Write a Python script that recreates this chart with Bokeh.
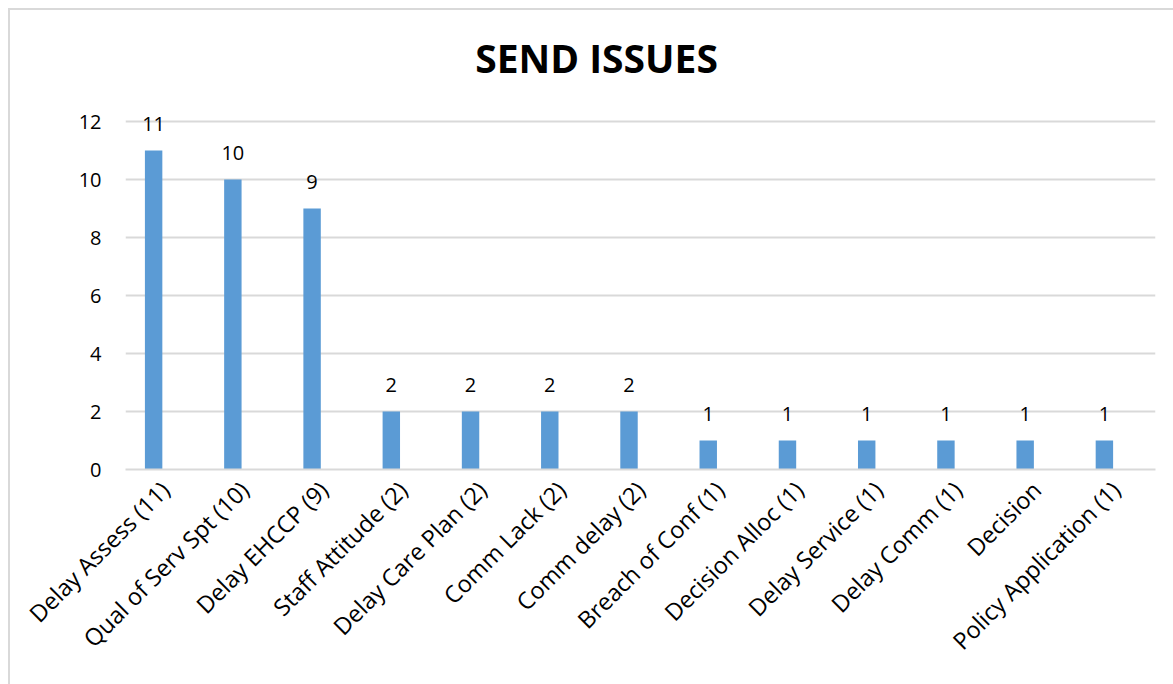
from bokeh.plotting import figure
from bokeh.models import ColumnDataSource, LabelSet, Label, FixedTicker, FactorRange, Range1d
from bokeh.core.properties import value
from bokeh.transform import dodge
from bokeh.embed import file_html
from bokeh.resources import INLINE
import math

categories = [
    "Delay Assess (11)", "Qual of Serv Spt (10)", "Delay EHCCP (9)",
    "Staff Attitude (2)", "Delay Care Plan (2)", "Comm Lack (2)",
    "Comm delay (2)", "Breach of Conf (1)", "Decision Alloc (1)",
    "Delay Service (1)", "Delay Comm (1)", "Decision",
    "Policy Application (1)",
]
counts = [11, 10, 9, 2, 2, 2, 2, 1, 1, 1, 1, 1, 1]
y_ticks = [0, 2, 4, 6, 8, 10, 12]

FONT = "Open Sans"
GRID = "#d9d9d9"
BAR = "#5b9bd5"

source = ColumnDataSource(data=dict(cat=categories, n=counts,
                                    lbl=[str(v) for v in counts]))

# The frame reaches the top of the canvas so the title and value labels
# sit inside it; gridlines stop at 12.
p = figure(
    width=1173, height=684,
    x_range=FactorRange(*categories, range_padding=0),
    y_range=Range1d(0, 469 / 29),
    output_backend="svg", toolbar_location=None,
    min_border_left=125, min_border_right=18,
    min_border_top=0, min_border_bottom=215,
)
p.outline_line_color = None
p.background_fill_color = "white"
p.border_fill_color = "white"

offset = -0.145
p.vbar(x=dodge("cat", offset, range=p.x_range), top="n", width=0.22,
       source=source, color=BAR, line_color=None)

labels = LabelSet(x=dodge("cat", offset, range=p.x_range), y="n", text="lbl",
                  source=source, y_offset=20, text_align="center",
                  text_baseline="alphabetic", text_font_size="20px",
                  text_font=value(FONT), text_color="black")
p.add_layout(labels)

# Axes
p.yaxis.ticker = FixedTicker(ticks=y_ticks)
p.yaxis.axis_line_color = None
p.yaxis.major_tick_line_color = None
p.yaxis.minor_tick_line_color = None
p.yaxis.major_tick_out = 0
p.yaxis.major_label_standoff = 24
p.yaxis.major_label_text_font = FONT
p.yaxis.major_label_text_font_size = "20px"
p.yaxis.major_label_text_color = "black"

p.xaxis.axis_line_color = GRID
p.xaxis.axis_line_width = 2
p.xaxis.major_tick_line_color = None
p.xaxis.minor_tick_line_color = None
p.xaxis.major_tick_out = 0
p.xaxis.major_label_orientation = math.pi / 4
p.xaxis.major_label_standoff = 16
p.xaxis.major_label_text_font = FONT
p.xaxis.major_label_text_font_size = "23.5px"
p.xaxis.major_label_text_color = "black"

p.xgrid.grid_line_color = None
p.ygrid.grid_line_color = GRID
p.ygrid.grid_line_width = 2

# Chart title
p.add_layout(Label(x=5.945, y=14.19, text="SEND ISSUES", text_align="center",
                   text_baseline="middle", text_font=FONT, text_font_style="bold",
                   text_font_size="39px", text_color="black"))

# Chart area border (left and top edges)
p.stylesheets = [
    ":host::after { content: ''; position: absolute; left: 8px; top: 8px; "
    "width: 2000px; height: 2000px; border-left: 2.5px solid #d9d9d9; "
    "border-top: 2.5px solid #d9d9d9; pointer-events: none; }",
    ":host { overflow: hidden; }",
]

open("out.html", "w").write(file_html(p, INLINE))
